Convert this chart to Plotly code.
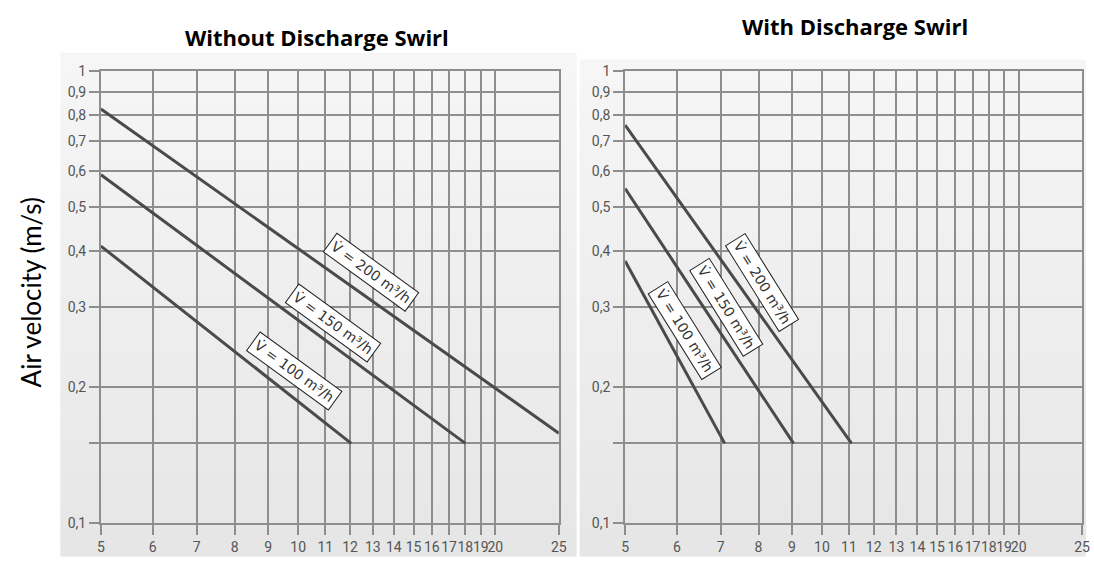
import math
import plotly.graph_objects as go

# Air velocity vs. throw distance for three volume flows, two outlet types
flows = [100, 150, 200]
flow_labels = ["V\u0307 = 100 m\u00b3/h", "V\u0307 = 150 m\u00b3/h", "V\u0307 = 200 m\u00b3/h"]

# Without discharge swirl: start/end points of each characteristic
plain_x_100 = [5, 12.05]
plain_y_100 = [0.41, 0.15]
plain_x_150 = [5, 18]
plain_y_150 = [0.59, 0.15]
plain_x_200 = [5, 25]
plain_y_200 = [0.825, 0.158]

# With discharge swirl
swirl_x_100 = [5, 7.1]
swirl_y_100 = [0.38, 0.15]
swirl_x_150 = [5, 9.05]
swirl_y_150 = [0.55, 0.15]
swirl_x_200 = [5, 11.1]
swirl_y_200 = [0.76, 0.15]

# Label anchor points (data coordinates) for the flow tags
plain_tag_x = [9.86, 11.3, 12.9]
plain_tag_y = [0.2166, 0.277, 0.359]
swirl_tag_x = [6.18, 7.13, 8.11]
swirl_tag_y = [0.2666, 0.300, 0.34]

x_ticks = [5, 6, 7, 8, 9, 10, 11, 12, 13, 14, 15, 16, 17, 18, 19, 20, 25]
y_ticks = [0.1, 0.15, 0.2, 0.3, 0.4, 0.5, 0.6, 0.7, 0.8, 0.9, 1.0]
y_tick_text = ["0,1", "", "0,2", "0,3", "0,4", "0,5", "0,6", "0,7", "0,8", "0,9", "1"]

W, H = 1094, 564
GRID = "#8e8e8e"
LINE = "#4a4a4a"

fig = go.Figure()

plain = [(plain_x_100, plain_y_100), (plain_x_150, plain_y_150), (plain_x_200, plain_y_200)]
swirl = [(swirl_x_100, swirl_y_100), (swirl_x_150, swirl_y_150), (swirl_x_200, swirl_y_200)]

for (xs, ys) in plain:
    fig.add_trace(go.Scatter(x=xs, y=ys, mode="lines", line=dict(color=LINE, width=3),
                             xaxis="x", yaxis="y", showlegend=False, hoverinfo="skip"))
for (xs, ys) in swirl:
    fig.add_trace(go.Scatter(x=xs, y=ys, mode="lines", line=dict(color=LINE, width=3),
                             xaxis="x2", yaxis="y2", showlegend=False, hoverinfo="skip"))

def px_x(p):
    return p / W

def px_y(p):
    return 1 - p / H

y_dom = [px_y(530), px_y(65)]

axis_common = dict(
    type="log",
    showgrid=True, gridcolor=GRID, gridwidth=2,
    showline=True, linecolor=GRID, linewidth=2, mirror=True,
    ticks="outside", ticklen=10, tickwidth=2, tickcolor=GRID,
    zeroline=False,
    tickfont=dict(family="Roboto, DejaVu Sans, sans-serif", size=14, color="#555555"),
)

xaxis_cfg = dict(axis_common, range=[math.log10(5), math.log10(25)], tickmode="array",
                 tickvals=x_ticks, ticktext=[str(v) for v in x_ticks], tickangle=0)
yaxis_cfg = dict(axis_common, range=[-1, 0], tickmode="array",
                 tickvals=y_ticks, ticktext=y_tick_text)

# Panel backgrounds with a soft vertical gradient
shapes = []
def panel(x0, x1, y0, y1, top=(246, 246, 246), bottom=(230, 230, 230), steps=40):
    h = (y1 - y0) / steps
    for i in range(steps):
        t = i / (steps - 1)
        c = tuple(int(round(top[k] + (bottom[k] - top[k]) * t)) for k in range(3))
        shapes.append(dict(type="rect", xref="paper", yref="paper", layer="below",
                           x0=px_x(x0), x1=px_x(x1),
                           y0=px_y(y0 + i * h), y1=px_y(y0 + (i + 1) * h + 0.6),
                           line=dict(width=0), fillcolor="rgb(%d,%d,%d)" % c))

panel(57, 579, 46, 564)
panel(582, 1094, 53, 564)

annotations = []
tag_font = dict(family="DejaVu Sans, sans-serif", size=14, color="#333333")
for i, label in enumerate(flow_labels):
    annotations.append(dict(x=math.log10(plain_tag_x[i]), y=math.log10(plain_tag_y[i]),
                            xref="x", yref="y", text=label, showarrow=False,
                            textangle=36, font=tag_font, bgcolor="white",
                            bordercolor="#222222", borderwidth=1, borderpad=3))
    annotations.append(dict(x=math.log10(swirl_tag_x[i]), y=math.log10(swirl_tag_y[i]),
                            xref="x2", yref="y2", text=label, showarrow=False,
                            textangle=58, font=tag_font, bgcolor="white",
                            bordercolor="#222222", borderwidth=1, borderpad=3))

title_font = dict(family="Open Sans, sans-serif", size=22, color="black")
annotations.append(dict(x=px_x(316), y=px_y(30), xref="paper", yref="paper",
                        text="<b>Without Discharge Swirl</b>", showarrow=False,
                        font=title_font, xanchor="center", yanchor="middle"))
annotations.append(dict(x=px_x(860), y=px_y(19), xref="paper", yref="paper",
                        text="<b>With Discharge Swirl</b>", showarrow=False,
                        font=title_font, xanchor="center", yanchor="middle"))
annotations.append(dict(x=px_x(27), y=px_y(293), xref="paper", yref="paper",
                        text="Air velocity (m/s)", showarrow=False, textangle=-90,
                        font=dict(family="Lato, Open Sans, sans-serif", size=26, color="black"),
                        xanchor="center", yanchor="middle"))

fig.update_layout(
    width=W, height=H,
    margin=dict(l=0, r=0, t=0, b=0),
    paper_bgcolor="white",
    plot_bgcolor="rgba(0,0,0,0)",
    xaxis=dict(xaxis_cfg, domain=[px_x(98), px_x(561)], anchor="y"),
    yaxis=dict(yaxis_cfg, domain=y_dom, anchor="x"),
    xaxis2=dict(xaxis_cfg, domain=[px_x(628), px_x(1090)], anchor="y2"),
    yaxis2=dict(yaxis_cfg, domain=y_dom, anchor="x2"),
    shapes=shapes,
    annotations=annotations,
    showlegend=False,
)

fig.write_html("out.html")
